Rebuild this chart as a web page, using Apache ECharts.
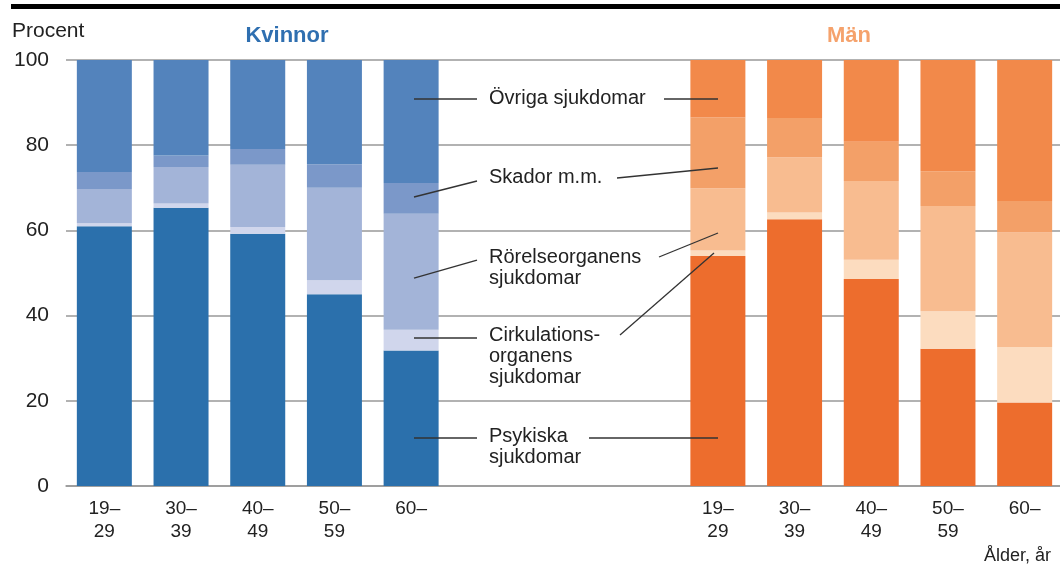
<!DOCTYPE html>
<html>
<head>
<meta charset="utf-8">
<script src="https://cdn.jsdelivr.net/npm/echarts@6/dist/echarts.min.js"></script>
<style>
  html, body { margin: 0; padding: 0; background: #fff; overflow: hidden; }
  #chart { width: 1064px; height: 569px; }
</style>
</head>
<body>
<div id="chart"></div>
<script>
// åldersgrupper: 5 kvinnor, 3 tomma platser för förklaringar, 5 män
const ages = ['19–\n29', '30–\n39', '40–\n49', '50–\n59', '60–']
const categories = [...ages, '', '', '', ...ages]
const yTicks = [0, 20, 40, 60, 80, 100]

// Kvinnor, procent
const kPsykiska = [61.0, 65.3, 59.2, 45.0, 31.8]
const kCirkulation = [0.7, 1.0, 1.6, 3.3, 4.9]
const kRorelse = [8.0, 8.6, 14.6, 21.7, 27.2]
const kSkador = [4.0, 2.7, 3.7, 5.5, 7.2]
const kOvriga = [26.3, 22.4, 20.9, 24.5, 28.9]

// Män, procent
const mPsykiska = [54.0, 62.6, 48.6, 32.2, 19.6]
const mCirkulation = [1.3, 1.6, 4.5, 8.8, 13.0]
const mRorelse = [14.6, 13.0, 18.5, 24.7, 26.9]
const mSkador = [16.6, 9.2, 9.2, 8.2, 7.4]
const mOvriga = [13.5, 13.6, 19.2, 26.1, 33.1]

const kColors = ['#2b70ac', '#d0d6ec', '#a3b4d8', '#7b98c9', '#5383bc']
const mColors = ['#ed6d2d', '#fcdcbf', '#f8bc90', '#f3a068', '#f2894a']

const font = '"Liberation Sans", Arial, sans-serif'
const empty = ['-', '-', '-', '-', '-', '-', '-', '-']

const barSeries = (vals, color, stack, side) => ({
  type: 'bar',
  stack,
  barWidth: 55,
  barGap: '-100%',
  itemStyle: { color },
  emphasis: { disabled: true },
  data: side === 'k' ? [...vals, ...empty] : [...empty, ...vals]
})

const kSeries = [kPsykiska, kCirkulation, kRorelse, kSkador, kOvriga].map((v, i) => barSeries(v, kColors[i], 'k', 'k'))
const mSeries = [mPsykiska, mCirkulation, mRorelse, mSkador, mOvriga].map((v, i) => barSeries(v, mColors[i], 'm', 'm'))

// förklaringar i mitten
const notes = [
  { text: 'Övriga sjukdomar', y: 99 },
  { text: 'Skador m.m.', y: 178 },
  { text: 'Rörelseorganens\nsjukdomar', y: 258 },
  { text: 'Cirkulations-\norganens\nsjukdomar', y: 336 },
  { text: 'Psykiska\nsjukdomar', y: 437 }
]
const leaders = [
  [414, 99, 477, 99], [664, 99, 718, 99],
  [414, 197, 477, 181], [617, 178, 718, 168],
  [414, 278, 477, 260], [659, 257, 718, 233],
  [414, 338, 477, 338], [620, 335, 714, 253],
  [414, 438, 477, 438], [589, 438, 718, 438]
]

const graphics = [
  { type: 'rect', shape: { x: 11, y: 4, width: 1060, height: 5 }, style: { fill: '#000' } },
  { type: 'text', left: 12, top: 21, style: { text: 'Procent', font: `21px ${font}`, fill: '#222' } },
  { type: 'text', x: 287, y: 36, style: { text: 'Kvinnor', font: `bold 22px ${font}`, fill: '#2f6fb0', align: 'center', verticalAlign: 'middle' } },
  { type: 'text', x: 849, y: 36, style: { text: 'Män', font: `bold 22px ${font}`, fill: '#f5a26c', align: 'center', verticalAlign: 'middle' } },
  { type: 'text', x: 1051, y: 556, style: { text: 'Ålder, år', font: `18px ${font}`, fill: '#222', align: 'right', verticalAlign: 'middle' } },
  ...notes.map(n => ({
    type: 'text', x: 489, y: n.y - 11, z: 100,
    style: { text: n.text, font: `20px ${font}`, lineHeight: 21, fill: '#222', align: 'left', verticalAlign: 'top' }
  })),
  ...leaders.map(l => ({
    type: 'line', z: 100, shape: { x1: l[0], y1: l[1], x2: l[2], y2: l[3] },
    style: { stroke: '#333', lineWidth: 1.3 }
  }))
]

const myEcharts = echarts.init(document.getElementById('chart'))
myEcharts.setOption({
  animation: false,
  grid: { left: 66, top: 60, width: 997, height: 426 },
  xAxis: {
    type: 'category',
    data: categories,
    axisTick: { show: false },
    axisLine: { lineStyle: { color: '#999', width: 1.5 } },
    axisLabel: { color: '#222', fontSize: 19, fontFamily: font, lineHeight: 23, margin: 11, interval: 0 }
  },
  yAxis: {
    type: 'value',
    min: yTicks[0],
    max: yTicks[yTicks.length - 1],
    interval: 20,
    axisLine: { show: false },
    axisTick: { show: false },
    splitLine: { lineStyle: { color: '#999', width: 1.5 } },
    axisLabel: { color: '#222', fontSize: 21, fontFamily: font, margin: 17 }
  },
  series: [...kSeries, ...mSeries],
  graphic: graphics
})
window.addEventListener('resize', () => {
  myEcharts.resize()
})
</script>
</body>
</html>
